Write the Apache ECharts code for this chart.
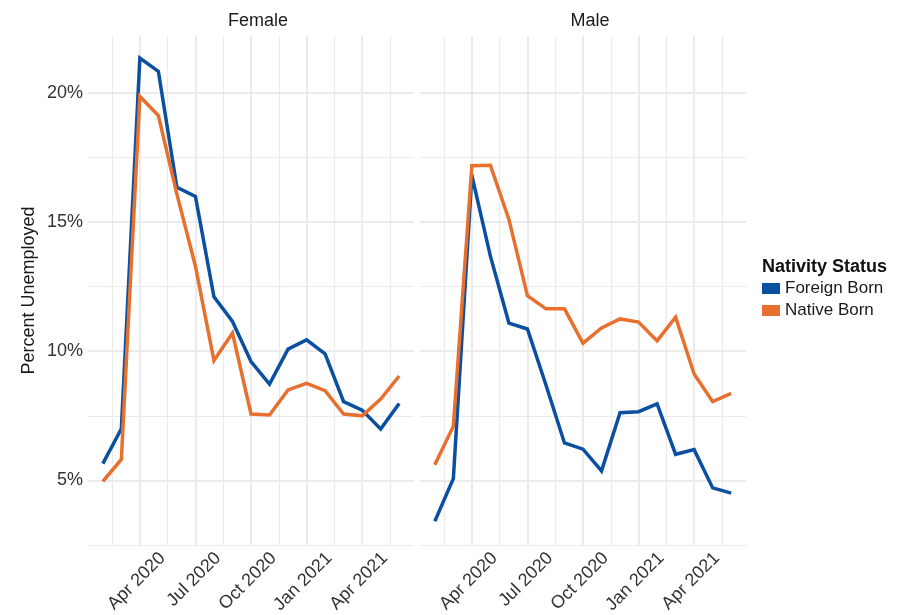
<!DOCTYPE html>
<html lang="en">
<head>
    <meta charset="UTF-8">
    <title>Unemployment by Nativity Status</title>
    <style>
        html, body { margin: 0; padding: 0; background: #fff; }
        #chart { width: 904px; height: 615px; }
    </style>
</head>
<body>
<div id="chart"></div>
<script src="https://cdn.jsdelivr.net/npm/echarts@6/dist/echarts.min.js"></script>
<script>
    // months shown (Jan 2020 = 0, so Feb 2020 = 1)
    var months = ['Feb 2020', 'Mar 2020', 'Apr 2020', 'May 2020', 'Jun 2020', 'Jul 2020', 'Aug 2020', 'Sep 2020',
        'Oct 2020', 'Nov 2020', 'Dec 2020', 'Jan 2021', 'Feb 2021', 'Mar 2021', 'Apr 2021', 'May 2021', 'Jun 2021'];
    var xTickLabels = ['Apr 2020', 'Jul 2020', 'Oct 2020', 'Jan 2021', 'Apr 2021'];
    var yTicks = [5, 10, 15, 20];
    var panels = ['Female', 'Male'];
    var seriesNames = ['Foreign Born', 'Native Born'];

    var femaleForeign = [5.65, 7.0, 21.35, 20.83, 16.34, 15.99, 12.11, 11.15, 9.6, 8.73, 10.08, 10.44, 9.9, 8.05, 7.72, 6.99, 7.98];
    var femaleNative = [4.96, 5.81, 19.86, 19.12, 16.08, 13.29, 9.64, 10.7, 7.57, 7.53, 8.5, 8.76, 8.47, 7.57, 7.5, 8.15, 9.04];
    var maleForeign = [3.42, 5.07, 16.8, 13.68, 11.09, 10.86, 8.69, 6.45, 6.21, 5.37, 7.62, 7.66, 7.96, 6.01, 6.19, 4.71, 4.51];
    var maleNative = [5.61, 7.1, 17.18, 17.2, 15.1, 12.15, 11.64, 11.64, 10.31, 10.9, 11.25, 11.13, 10.4, 11.32, 9.12, 8.05, 8.37];

    var colors = ['#0b50a0', '#e8702e'];
    var font = 'Liberation Sans, Arial, sans-serif';
    var gridColor = '#ebebeb';

    function monthPos(label) {
        return months.indexOf(label) + 1;
    }

    var xMajor = xTickLabels.map(monthPos);
    var xMinor = xMajor.map(function (v) { return v - 1.5; }).concat([xMajor[xMajor.length - 1] + 1.5]);
    var yMinor = yTicks.map(function (v) { return v - 2.5; });

    function toPoints(values) {
        return values.map(function (v, i) { return [i + 1, v]; });
    }

    var chart = echarts.init(document.getElementById('chart'));

    var grids = [];
    var xAxes = [];
    var yAxes = [];
    var titles = [];
    var panelLeft = [88, 420];

    panels.forEach(function (name, p) {
        grids.push({
            left: panelLeft[p],
            top: 36,
            width: 326,
            height: 509,
            outerBoundsMode: 'none'
        });
        titles.push({
            text: name,
            left: panelLeft[p] + 165,
            top: 7,
            textAlign: 'center',
            textStyle: { fontFamily: font, fontSize: 18, fontWeight: 'normal', color: '#1a1a1a' }
        });
        // major x
        xAxes.push({
            type: 'value',
            gridIndex: p,
            min: 0.2,
            max: 17.8,
            axisLine: { show: false },
            axisTick: { show: false, customValues: xMajor },
            axisLabel: {
                customValues: xMajor,
                rotate: 45,
                margin: 33,
                padding: [0, -32, 0, 0],
                fontFamily: font,
                fontSize: 18,
                color: '#333',
                formatter: function (v) {
                    return months[Math.round(v) - 1];
                }
            },
            splitLine: { show: true, lineStyle: { color: gridColor, width: 2 } }
        });
        // minor x
        xAxes.push({
            type: 'value',
            gridIndex: p,
            min: 0.2,
            max: 17.8,
            axisLine: { show: false },
            axisTick: { show: false, customValues: xMinor },
            axisLabel: { show: false },
            splitLine: { show: true, lineStyle: { color: gridColor, width: 1.2 } }
        });
        // major y
        yAxes.push({
            type: 'value',
            gridIndex: p,
            min: 2.5,
            max: 22.2,
            name: p === 0 ? 'Percent Unemployed' : '',
            nameLocation: 'middle',
            nameGap: 59,
            nameTextStyle: { fontFamily: font, fontSize: 18, color: '#1a1a1a', verticalAlign: 'middle' },
            axisLine: { show: false },
            axisTick: { show: false, customValues: yTicks },
            axisLabel: {
                show: p === 0,
                customValues: yTicks,
                margin: 5,
                fontFamily: font,
                fontSize: 18,
                color: '#333',
                formatter: '{value}%'
            },
            splitLine: { show: true, lineStyle: { color: gridColor, width: 2 } }
        });
        // minor y
        yAxes.push({
            type: 'value',
            gridIndex: p,
            min: 2.5,
            max: 22.2,
            axisLine: { show: false },
            axisTick: { show: false, customValues: yMinor },
            axisLabel: { show: false },
            splitLine: { show: true, lineStyle: { color: gridColor, width: 1.2 } }
        });
    });

    titles.push({
        text: 'Nativity Status',
        left: 757,
        top: 253,
        textStyle: { fontFamily: font, fontSize: 18, fontWeight: 'bold', color: '#111' }
    });

    function lineSeries(name, p, values, color) {
        return {
            name: name,
            type: 'line',
            xAxisIndex: p * 2,
            yAxisIndex: p * 2,
            data: toPoints(values),
            symbol: 'none',
            color: color,
            lineStyle: { width: 3.5, color: color, join: 'miter' },
            z: 5
        };
    }

    var option = {
        animation: false,
        backgroundColor: '#fff',
        title: titles,
        legend: {
            orient: 'vertical',
            left: 762,
            top: 280,
            padding: 0,
            itemGap: 5,
            itemWidth: 18,
            itemHeight: 11,
            icon: 'rect',
            data: seriesNames,
            textStyle: { fontFamily: font, fontSize: 17, color: '#1a1a1a', lineHeight: 17 }
        },
        grid: grids,
        xAxis: xAxes,
        yAxis: yAxes,
        series: [
            lineSeries(seriesNames[0], 0, femaleForeign, colors[0]),
            lineSeries(seriesNames[1], 0, femaleNative, colors[1]),
            lineSeries(seriesNames[0], 1, maleForeign, colors[0]),
            lineSeries(seriesNames[1], 1, maleNative, colors[1])
        ]
    };

    chart.setOption(option);
</script>
</body>
</html>
